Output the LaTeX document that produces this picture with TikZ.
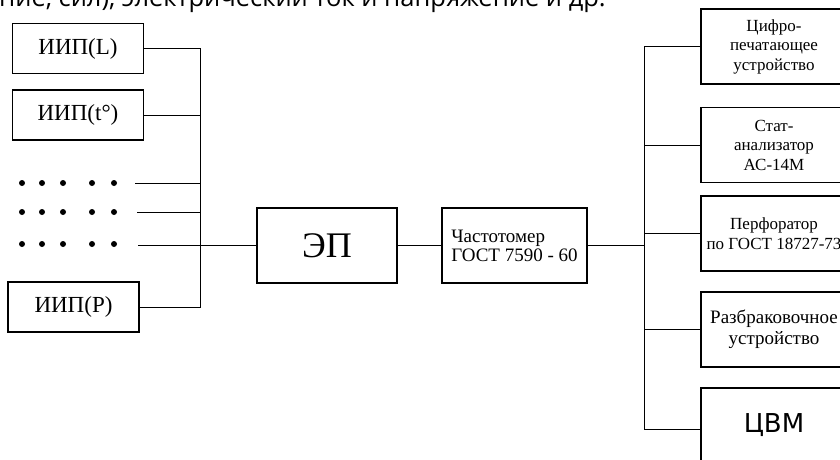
\documentclass[tikz,border=0pt]{standalone}
\usepackage{fontspec}
\setmainfont{Liberation Serif}
\newfontfamily\topfont{Open Sans}
\newfontfamily\cvmfont{DejaVu Sans}
\usetikzlibrary{positioning}

\begin{document}
\begin{tikzpicture}[
  x=1pt, y=-1pt,
  box/.style={draw, line width=1.4pt, align=center, inner sep=2pt},
  source/.style={box, minimum width=131pt, minimum height=50pt, font=\fontsize{23}{26}\selectfont},
  sink/.style={box, minimum width=146pt, minimum height=75pt, font=\fontsize{17}{19.5}\selectfont},
  wire/.style={line width=1pt}
]
\useasboundingbox (0,0) rectangle (840,460);
\clip (0,0) rectangle (840,460);
% --- cropped caption line ---
\node[font=\topfont\fontsize{25.5}{30}\selectfont, anchor=base west, inner sep=0pt] (head) at (-1,7) {ние, сил), электрический ток и напряжение и др.};
% --- sources ---
\node[source] (iipL) at (78,48.5) {ИИП(L)};
\node[source] (iipT) at (78,115) {ИИП(t°)};
\node[source] (iipP) at (73.5,307) {ИИП(P)};
\foreach \x in {22,42,63,92,114} \foreach \y in {183,212,244} \fill (\x,\y) circle (3pt);
\coordinate (d1) at (135,183);
\coordinate (d2) at (137,212);
\coordinate (d3) at (138,245.5);
\coordinate (busL) at (200,0);
% --- converter and counter ---
\node[box, minimum width=140pt, minimum height=75pt, font=\fontsize{36}{40}\selectfont] (ep) at (327,245.5) {ЭП};
\node[box, minimum width=145pt, minimum height=75pt, align=left, font=\fontsize{19}{19}\selectfont] (freq) at (514.5,245.5) {Частотомер\\ГОСТ 7590 - 60};
% --- receivers ---
\node[sink] (print) at (774,46.5) {Цифро-\\печатающее\\устройство};
\node[sink] (stat) at (774,145) {Стат-\\анализатор\\АС-14М};
\node[sink] (perf) at (774,233.5) {Перфоратор\\по ГОСТ 18727-73};
\node[sink, font=\fontsize{19}{21}\selectfont] (reject) at (774,329.5) {Разбраковочное\\устройство};
\node[sink, font=\cvmfont\fontsize{26}{30}\selectfont] (cvm) at (774,425.5) {ЦВМ};
\coordinate (cvmIn) at ([yshift=-3.5pt]cvm.west);
\coordinate (busR) at (644,0);
% --- left bus ---
\draw[wire] (iipL.east) -- (iipL.east -| busL) -- (iipP.east -| busL) -- (iipP.east);
\draw[wire] (iipT.east) -- (iipT.east -| busL);
\draw[wire] (d1) -- (d1 -| busL);
\draw[wire] (d2) -- (d2 -| busL);
\draw[wire] (d3) -- (ep.west);
% --- right bus ---
\draw[wire] (ep.east) -- (freq.west);
\draw[wire] (freq.east) -- (freq.east -| busR);
\draw[wire] (print.west) -- (print.west -| busR) -- (cvmIn -| busR) -- (cvmIn);
\draw[wire] (stat.west) -- (stat.west -| busR);
\draw[wire] (perf.west) -- (perf.west -| busR);
\draw[wire] (reject.west) -- (reject.west -| busR);
\end{tikzpicture}
\end{document}
